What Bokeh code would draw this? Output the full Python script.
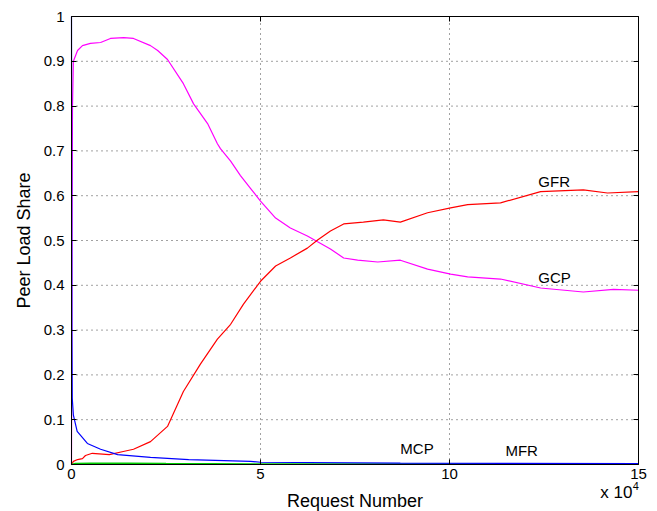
from bokeh.plotting import figure
from bokeh.models import FixedTicker, LinearAxis, Label, NumeralTickFormatter, Range1d
from bokeh.embed import file_html
from bokeh.resources import INLINE

# Request number (x) sample points and the load share of each strategy
gcp_x = [0, 130, 260, 500, 1600, 2900, 5000, 7700, 10300, 13800, 16400, 20900,
         22800, 25400, 29600, 32300, 36000, 38600, 39400, 42100, 44700, 47400,
         50000, 54000, 57900, 62400, 65100, 68500, 72000, 75700, 81000, 87000,
         94200, 100300, 104800, 113500, 124100, 135400, 143400, 150000]
gcp_y = [0.0, 0.5, 0.80, 0.90, 0.924, 0.935, 0.94, 0.942, 0.951, 0.953, 0.951, 0.935,
         0.924, 0.904, 0.85, 0.805, 0.761, 0.716, 0.705, 0.677, 0.645, 0.616,
         0.588, 0.550, 0.528, 0.510, 0.497, 0.481, 0.461, 0.456, 0.452, 0.456,
         0.436, 0.425, 0.419, 0.414, 0.394, 0.385, 0.391, 0.389]

gfr_x = [0, 500, 1600, 2900, 3700, 5500, 10000, 13700, 16400, 20900, 25400, 29600,
         34100, 38600, 42100, 45500, 50000, 54000, 57900, 62400, 65100, 68500,
         72000, 77200, 82500, 87000, 94200, 100300, 104800, 113500, 124100,
         135400, 141800, 150000]
gfr_y = [0.0, 0.007, 0.011, 0.013, 0.02, 0.025, 0.022, 0.029, 0.034, 0.051, 0.085, 0.163,
         0.224, 0.28, 0.313, 0.358, 0.409, 0.443, 0.461, 0.483, 0.501, 0.521,
         0.537, 0.541, 0.546, 0.541, 0.562, 0.573, 0.58, 0.584, 0.609,
         0.613, 0.606, 0.609]

mcp_x = [0, 100, 200, 500, 1500, 4200, 7700, 12200, 20900, 31000, 47400, 50000,
         87000, 150000]
mcp_y = [1.0, 0.30, 0.148, 0.11, 0.074, 0.047, 0.034, 0.022, 0.016, 0.011, 0.007,
         0.005, 0.003, 0.002]

mfr_x = [0, 1000, 5000, 15000, 25000, 50000, 100000, 150000]
mfr_y = [0.0, 0.002, 0.003, 0.003, 0.002, 0.001, 0.001, 0.001]

x_ticks = [0, 50000, 100000, 150000]
x_tick_labels = ["0", "5", "10", "15"]
y_ticks = [0, 0.1, 0.2, 0.3, 0.4, 0.5, 0.6, 0.7, 0.8, 0.9, 1]

FONT = "Liberation Sans"

# The whole canvas is the plotting frame; the axes box sits inside it so that
# the exponent note under the x axis can be drawn as an ordinary label.
W, H = 657, 511
BOX_L, BOX_R, BOX_T, BOX_B = 71, 638, 16, 464
X0, X1 = x_ticks[0], x_ticks[-1]
Y0, Y1 = y_ticks[0], y_ticks[-1]
ux = (X1 - X0) / (BOX_R - BOX_L)
uy = (Y1 - Y0) / (BOX_B - BOX_T)

p = figure(width=W, height=H, output_backend="svg", toolbar_location=None,
           x_range=Range1d(X0 - BOX_L * ux, X1 + (W - BOX_R) * ux),
           y_range=Range1d(Y0 - (H - BOX_B) * uy, Y1 + BOX_T * uy),
           min_border=0)
p.background_fill_color = "white"
p.border_fill_color = "white"
p.outline_line_color = None
p.xgrid.visible = False
p.ygrid.visible = False

# dotted grid inside the box, at the inner ticks
p.segment(x0=x_ticks[1:-1], y0=Y0, x1=x_ticks[1:-1], y1=Y1,
          line_color="#444444", line_dash="1 4", line_width=1)
p.segment(x0=X0, y0=y_ticks[1:-1], x1=X1, y1=y_ticks[1:-1],
          line_color="#444444", line_dash="1 4", line_width=1)

# series
p.line(gcp_x, gcp_y, line_color="#ff00ff", line_width=1.2)
p.line(gfr_x, gfr_y, line_color="#ff0000", line_width=1.2)
p.line(mfr_x, mfr_y, line_color="#00cc00", line_width=1.5)
p.line(mcp_x, mcp_y, line_color="#0000ff", line_width=1.2)

# axes: box style, ticks pointing inward
xt = FixedTicker(ticks=x_ticks)
yt = FixedTicker(ticks=y_ticks)
xax = p.xaxis[0]
yax = p.yaxis[0]
xax.ticker = xt
yax.ticker = yt
xax.fixed_location = Y0
yax.fixed_location = X0
xax.bounds = (X0, X1)
yax.bounds = (Y0, Y1)
xax.major_label_overrides = dict(zip(x_ticks, x_tick_labels))
yax.formatter = NumeralTickFormatter(format="0.[0]")
for ax in (xax, yax):
    ax.major_tick_in = 5
    ax.major_tick_out = 0
    ax.minor_tick_line_color = None
    ax.axis_line_color = "black"
    ax.major_tick_line_color = "black"
    ax.major_label_text_font = FONT
    ax.major_label_text_font_size = "15px"
    ax.major_label_text_color = "black"
    ax.axis_label_text_font = FONT
    ax.axis_label_text_font_size = "18px"
    ax.axis_label_text_font_style = "normal"
    ax.axis_label_text_color = "black"
xax.axis_label = "Request Number"
yax.axis_label = "Peer Load Share"
xax.major_label_standoff = 4
yax.major_label_standoff = 7
xax.axis_label_standoff = 9
yax.axis_label_standoff = 7

for loc, tk, ticks, at, bnd in (("right", yt, y_ticks, X1, (Y0, Y1)),
                                ("above", xt, x_ticks, Y1, (X0, X1))):
    ax = LinearAxis(ticker=tk, major_tick_in=5, major_tick_out=0,
                    fixed_location=at, bounds=bnd,
                    minor_tick_line_color=None,
                    major_label_overrides={t: "" for t in ticks},
                    axis_line_color="black", major_tick_line_color="black")
    p.add_layout(ax, loc)

# series labels
for txt, lx, ly in (("GFR", 123500, 0.632), ("GCP", 123500, 0.418),
                    ("MCP", 87000, 0.036), ("MFR", 114800, 0.031)):
    p.add_layout(Label(x=lx, y=ly, text=txt, text_font=FONT, text_font_size="15px",
                       text_baseline="middle", text_align="left", text_color="black"))

# x axis exponent
p.add_layout(Label(x=139900, y=-0.0625, text="x 10", text_font=FONT,
                   text_font_size="17px", text_baseline="middle", text_align="left",
                   text_color="black"))
p.add_layout(Label(x=148500, y=-0.049, text="4", text_font=FONT,
                   text_font_size="11px", text_baseline="middle", text_align="left",
                   text_color="black"))

open("out.html", "w").write(file_html(p, INLINE))
